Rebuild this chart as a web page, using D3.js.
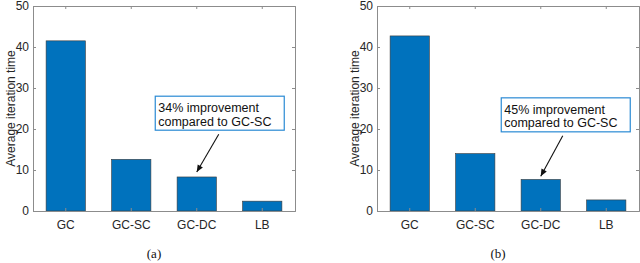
<!DOCTYPE html>
<html>
<head>
<meta charset="utf-8">
<script src="https://cdn.jsdelivr.net/npm/d3@7"></script>
<style>
  body { margin: 0; background: #fff; }
  svg { display: block; }
</style>
</head>
<body>
<svg id="chart" width="640" height="263"></svg>
<script>
let methods = ["GC", "GC-SC", "GC-DC", "LB"];
let timesA = [41.5, 12.6, 8.3, 2.4];
let timesB = [42.7, 14.0, 7.7, 2.7];
let yTicks = [0, 10, 20, 30, 40, 50];
let notesA = ["34% improvement", "compared to GC-SC"];
let notesB = ["45% improvement", "compared to GC-SC"];

let svg = d3.select("#chart");

let barColor = "#0072bd";
let axisColor = "#8c8c8c";
let textColor = "#262626";
let sans = "'Liberation Sans', Arial, sans-serif";
let serif = "'Liberation Serif', 'Times New Roman', serif";

// one panel per subfigure
function drawPanel(left, vals, notes, caption, box, arrow) {
  let w = 262, h = 205;
  let g = svg.append("g").attr("transform", `translate(${left},6)`);

  let xScale = d3.scaleBand()
    .domain(methods)
    .range([0, w])
    .paddingInner(0.4)
    .paddingOuter(0.2);

  let yScale = d3.scaleLinear()
    .domain([0, 50])
    .range([h, 0]);

  g.selectAll(".bar")
    .data(vals)
    .join("rect")
    .attr("class", "bar")
    .attr("x", (d, i) => xScale(methods[i]))
    .attr("y", d => yScale(d))
    .attr("width", xScale.bandwidth())
    .attr("height", d => h - yScale(d))
    .attr("fill", barColor)
    .attr("stroke", "#3a3a3a")
    .attr("stroke-width", 0.6);

  // box with inward ticks on all sides
  g.append("g")
    .call(d3.axisLeft(yScale).tickValues(yTicks).tickSize(-3).tickPadding(4));
  g.append("g")
    .attr("transform", `translate(${w},0)`)
    .call(d3.axisRight(yScale).tickValues(yTicks).tickSize(-3).tickFormat(""));
  g.append("g")
    .attr("transform", `translate(0,${h})`)
    .call(d3.axisBottom(xScale).tickSize(-3).tickPadding(9));
  g.append("g")
    .call(d3.axisTop(xScale).tickSize(-3).tickFormat(""));

  g.selectAll(".domain").attr("stroke", axisColor);
  g.selectAll(".tick line").attr("stroke", axisColor);
  g.selectAll(".tick text")
    .attr("fill", textColor)
    .style("font-family", sans)
    .style("font-size", "12px");

  g.append("text")
    .attr("transform", `translate(-18,${h / 2}) rotate(-90)`)
    .attr("text-anchor", "middle")
    .attr("fill", textColor)
    .style("font-family", sans)
    .style("font-size", "12px")
    .text("Average iteration time");

  // annotation
  let bx = xScale(box.at) + xScale.bandwidth() / 2 + box.dx;
  let by = yScale(box.top);
  g.append("rect")
    .attr("x", bx)
    .attr("y", by)
    .attr("width", 129)
    .attr("height", 34)
    .attr("fill", "#fff")
    .attr("stroke", "#2a8ad4")
    .attr("stroke-width", 1.2);
  g.selectAll(".note")
    .data(notes)
    .join("text")
    .attr("class", "note")
    .attr("x", bx + 3)
    .attr("y", (d, i) => by + 16 + i * 13.5)
    .attr("fill", "#111")
    .style("font-family", sans)
    .style("font-size", "12.5px")
    .text(d => d);

  let ax = xScale(arrow.at) + xScale.bandwidth() / 2;
  let x1 = ax + arrow.dx, y1 = by + 38;
  let x2 = ax, y2 = yScale(arrow.to);
  g.append("line")
    .attr("x1", x1).attr("y1", y1)
    .attr("x2", x2).attr("y2", y2)
    .attr("stroke", "#111")
    .attr("stroke-width", 1.1);
  let ang = Math.atan2(y2 - y1, x2 - x1);
  let hl = 7, hw = 3;
  let p = [
    [x2, y2],
    [x2 - hl * Math.cos(ang) + hw * Math.sin(ang), y2 - hl * Math.sin(ang) - hw * Math.cos(ang)],
    [x2 - hl * Math.cos(ang) - hw * Math.sin(ang), y2 - hl * Math.sin(ang) + hw * Math.cos(ang)]
  ];
  g.append("path")
    .attr("d", d3.line()(p) + "Z")
    .attr("fill", "#111");

  g.append("text")
    .attr("x", w / 2 - 10)
    .attr("y", 252)
    .attr("text-anchor", "middle")
    .attr("fill", "#111")
    .style("font-family", serif)
    .style("font-size", "13px")
    .text(caption);
}

drawPanel(33, timesA, notesA, "(a)",
  { at: "GC-SC", dx: 24, top: 28 },
  { at: "GC-DC", dx: 22, to: 9.5 });
drawPanel(377, timesB, notesB, "(b)",
  { at: "GC-SC", dx: 26, top: 27.6 },
  { at: "GC-DC", dx: 22, to: 8.5 });
</script>
</body>
</html>
